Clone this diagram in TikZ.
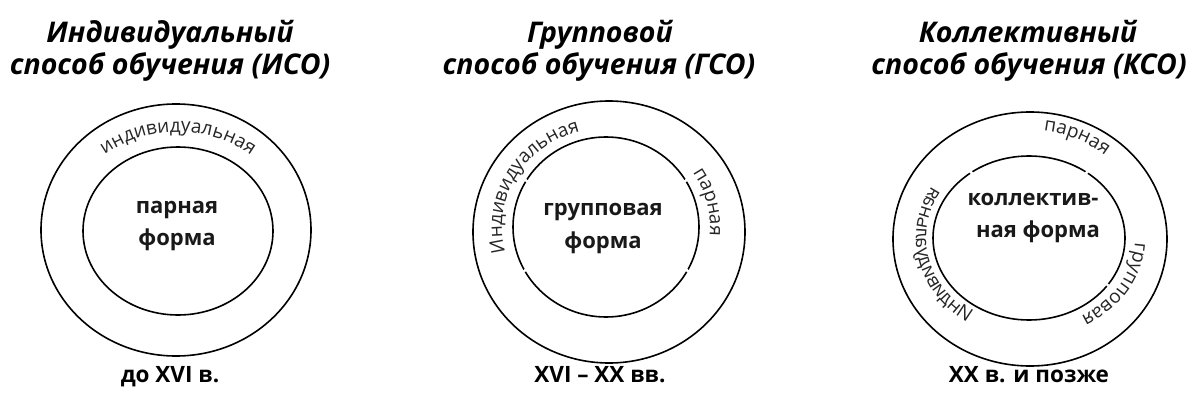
\documentclass[tikz,border=0pt]{standalone}
\usepackage{fontspec}
\setmainfont{Open Sans}
\usetikzlibrary{decorations.text}
\newcommand\ringfont{\fontsize{19}{19}\selectfont}
\tikzset{
  ring/.style={line width=1.6pt},
  titletext/.style={font=\fontsize{28.5}{32}\selectfont\bfseries\itshape, anchor=base, inner sep=0pt},
  eratext/.style={font=\fontsize{22.5}{25}\selectfont\bfseries, anchor=base, inner sep=0pt},
  formtext/.style={font=\fontsize{22}{26}\selectfont\bfseries, anchor=base, inner sep=0pt, text=black!90},
  ringtext/.style={decorate, decoration={text along path, text align=center, text color=black!85, text={|\ringfont|#1}}},
  gapmark/.style={fill=white, draw=none},
}
\begin{document}
\begin{tikzpicture}[x=1pt,y=1pt]
\useasboundingbox (0,0) rectangle (1192,416);
\fill[white] (0,0) rectangle (1192,416);

% centres
\coordinate (o1) at (176,186);
\coordinate (i1) at (178,185);
\coordinate (o2) at (609,184);
\coordinate (i2) at (606,189);
\coordinate (o3) at (1030,177);
\coordinate (i3) at (1029,178);

% titles
\node[titletext] (t1a) at (170,373) {Индивидуальный};
\node[titletext] (t1b) at (170,341) {способ обучения (ИСО)};
\node[titletext] (t2a) at (600,373) {Групповой};
\node[titletext] (t2b) at (599,341) {способ обучения (ГСО)};
\node[titletext] (t3a) at (1028,373) {Коллективный};
\node[titletext] (t3b) at (1029,341) {способ обучения (КСО)};

% rings
\draw[ring] (o1) ellipse [x radius=135, y radius=126];
\draw[ring] (i1) ellipse [x radius=95, y radius=84];
\draw[ring] (o2) ellipse [x radius=136, y radius=131];
\draw[ring] (i2) ellipse [x radius=93, y radius=90];
\draw[ring] (o3) ellipse [x radius=137, y radius=127];
\draw[ring] (i3) ellipse [x radius=96, y radius=82];

% small gaps in the inner rings
\fill[gapmark] (i2) ++(31:93 and 90) circle[radius=1.8];
\fill[gapmark] (i2) ++(149:93 and 90) circle[radius=1.8];
\fill[gapmark] (i2) ++(-29:93 and 90) circle[radius=1.8];
\fill[gapmark] (i2) ++(209:93 and 90) circle[radius=1.8];
\fill[gapmark] (i3) ++(127:96 and 82) circle[radius=1.8];
\fill[gapmark] (i3) ++(53:96 and 82) circle[radius=1.8];
\fill[gapmark] (i3) ++(-35:96 and 82) circle[radius=1.8];

% texts along the rings
\path[ringtext=индивидуальная] (i1) ++(150:114 and 99) arc[start angle=150, end angle=30, x radius=114, y radius=99];
\path[ringtext=Индивидуальная] (i2) ++(220:104 and 99) arc[start angle=220, end angle=80, x radius=104, y radius=99];
\path[ringtext=парная] (i2) ++(46:104 and 99) arc[start angle=46, end angle=-18, x radius=104, y radius=99];
\path[ringtext=парная] (i3) ++(98:118 and 108) arc[start angle=98, end angle=34, x radius=118, y radius=108];
\path[ringtext=групповая] (i3) ++(8:106 and 90) arc[start angle=8, end angle=-70, x radius=106, y radius=90];
\begin{scope}[transform canvas={xscale=-1}]
  \path[ringtext=Индивидуальная] (-1029,178) ++(-58:113 and 101) arc[start angle=-58, end angle=32, x radius=113, y radius=101];
\end{scope}

% inner labels
\node[formtext] (f1a) at (177,203) {парная};
\node[formtext] (f1b) at (177,171) {форма};
\node[formtext] (f2a) at (603,201) {групповая};
\node[formtext] (f2b) at (603,168) {форма};
\node[formtext] (f3a) at (1033,211) {коллектив-};
\node[formtext] (f3b) at (1038,179) {ная форма};

% periods
\node[eratext] (e1) at (170,34) {до XVI в.};
\node[eratext] (e2) at (600,34) {XVI – XX вв.};
\node[eratext] (e3) at (1029,34) {XX в. и позже};
\end{tikzpicture}
\end{document}
